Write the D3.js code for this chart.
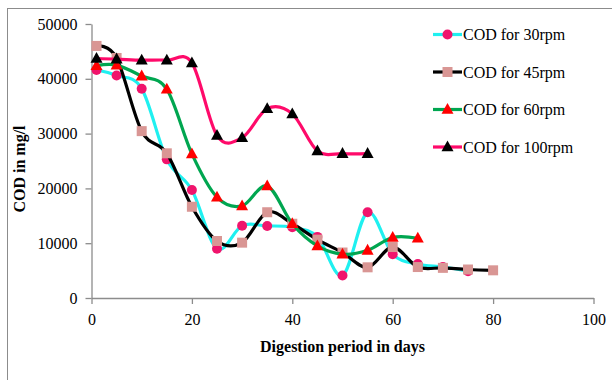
<!DOCTYPE html>
<html>
<head>
<meta charset="utf-8">
<script src="https://cdn.jsdelivr.net/npm/d3@7"></script>
<style>
  html, body { margin: 0; padding: 0; background: #fff; }
  svg { display: block; font-family: "Liberation Serif", "Times New Roman", serif; }
</style>
</head>
<body>
<svg id="chart" width="612" height="380"></svg>
<script>
// ----- données -----
let days30  = [1, 5, 10, 15, 20, 25, 30, 35, 40, 45, 50, 55, 60, 65, 70, 75];
let cod30   = [41600, 40600, 38200, 25300, 19700, 9000, 13200, 13150, 12900, 11150, 4100, 15650, 8000, 6200, 5650, 4900];

let days45  = [1, 5, 10, 15, 20, 25, 30, 35, 40, 45, 50, 55, 60, 65, 70, 75, 80];
let cod45   = [46000, 43800, 30450, 26400, 16650, 10400, 10100, 15650, 13550, 10650, 8300, 5600, 9300, 5650, 5500, 5200, 5050];

let days60  = [1, 5, 10, 15, 20, 25, 30, 35, 40, 45, 50, 55, 60, 65];
let cod60   = [42400, 42500, 40500, 38100, 26300, 18400, 16800, 20450, 13550, 9500, 8000, 8700, 11050, 10900];

let days100 = [1, 5, 10, 15, 20, 25, 30, 35, 40, 45, 50, 55];
let cod100  = [43700, 43600, 43400, 43400, 42900, 29650, 29250, 34550, 33600, 26850, 26350, 26350];

let seriesNames = ["COD for 30rpm", "COD for 45rpm", "COD for 60rpm", "COD for 100rpm"];
let xTicks = [0, 20, 40, 60, 80, 100];
let yTicks = [0, 10000, 20000, 30000, 40000, 50000];

// style de chaque série (ligne + marqueur)
let styles = [
  { line: "#1ff0f0", marker: "circle",   fill: "#f0146c" },
  { line: "#000000", marker: "square",   fill: "#d99694" },
  { line: "#00a650", marker: "triangle", fill: "#ff0000" },
  { line: "#ff0a6a", marker: "triangle", fill: "#000000" }
];

let series = [
  { x: days30,  y: cod30 },
  { x: days45,  y: cod45 },
  { x: days60,  y: cod60 },
  { x: days100, y: cod100 }
].map((s, i) => ({
  name: seriesNames[i],
  style: styles[i],
  points: s.x.map((d, j) => ({ x: d, y: s.y[j] }))
}));

// ----- dessin -----
let svg = d3.select("#chart");

// cadre du graphique (seuls les bords haut et gauche sont visibles)
svg.append("rect")
  .attr("x", 7.5).attr("y", 8.5)
  .attr("width", 700).attr("height", 500)
  .attr("fill", "none")
  .attr("stroke", "#8c8c8c")
  .attr("stroke-width", 1);

let x = d3.scaleLinear().domain([0, 100]).range([91.5, 593.5]);
let y = d3.scaleLinear().domain([0, 50000]).range([298, 24]);

let axisColor = "#8c8c8c";

let gx = svg.append("g")
  .attr("transform", `translate(0,${y(0)})`)
  .call(d3.axisBottom(x).tickValues(xTicks).tickSize(6).tickSizeOuter(0).tickPadding(10));

let gy = svg.append("g")
  .attr("transform", `translate(${x(0)},0)`)
  .call(d3.axisLeft(y).tickValues(yTicks).tickSize(6).tickSizeOuter(0).tickPadding(8).tickFormat(d3.format("d")));

[gx, gy].forEach(g => {
  g.select(".domain").attr("stroke", axisColor).attr("stroke-width", 1.3);
  g.selectAll(".tick line").attr("stroke", axisColor).attr("stroke-width", 1.3);
  g.selectAll(".tick text")
    .attr("fill", "#000")
    .style("font-family", "'Liberation Serif', serif")
    .style("font-size", "16px");
});

// titres des axes
svg.append("text")
  .attr("x", x(50)).attr("y", 352)
  .attr("text-anchor", "middle")
  .style("font-weight", "bold")
  .style("font-size", "16px")
  .text("Digestion period in days");

svg.append("text")
  .attr("transform", "translate(25,169) rotate(-90)")
  .attr("text-anchor", "middle")
  .style("font-weight", "bold")
  .style("font-size", "16px")
  .text("COD in mg/l");

// courbes lissées façon Excel
let line = d3.line()
  .x(d => x(d.x))
  .y(d => y(d.y))
  .curve(d3.curveCatmullRom.alpha(0));

function drawMarker(g, type, fill, cx, cy){
  if (type === "circle") {
    g.append("circle").attr("cx", cx).attr("cy", cy).attr("r", 5).attr("fill", fill);
  } else if (type === "square") {
    g.append("rect").attr("x", cx - 5).attr("y", cy - 5).attr("width", 10).attr("height", 10).attr("fill", fill);
  } else {
    let s = 12;
    let h = s * 0.9;
    g.append("path")
      .attr("d", `M${cx},${cy - h * 0.6}L${cx + s / 2},${cy + h * 0.4}L${cx - s / 2},${cy + h * 0.4}Z`)
      .attr("fill", fill);
  }
}

series.forEach(s => {
  let g = svg.append("g");
  g.append("path")
    .datum(s.points)
    .attr("d", line)
    .attr("fill", "none")
    .attr("stroke", s.style.line)
    .attr("stroke-width", 3.2);
  s.points.forEach(p => drawMarker(g, s.style.marker, s.style.fill, x(p.x), y(p.y)));
});

// légende
let legend = svg.append("g");
series.forEach((s, i) => {
  let ly = 34.5 + i * 37.5;
  legend.append("line")
    .attr("x1", 433).attr("x2", 462)
    .attr("y1", ly).attr("y2", ly)
    .attr("stroke", s.style.line)
    .attr("stroke-width", 3.2);
  drawMarker(legend, s.style.marker, s.style.fill, 447.5, ly);
  legend.append("text")
    .attr("x", 463).attr("y", ly + 5.5)
    .style("font-size", "16px")
    .text(s.name);
});
</script>
</body>
</html>
